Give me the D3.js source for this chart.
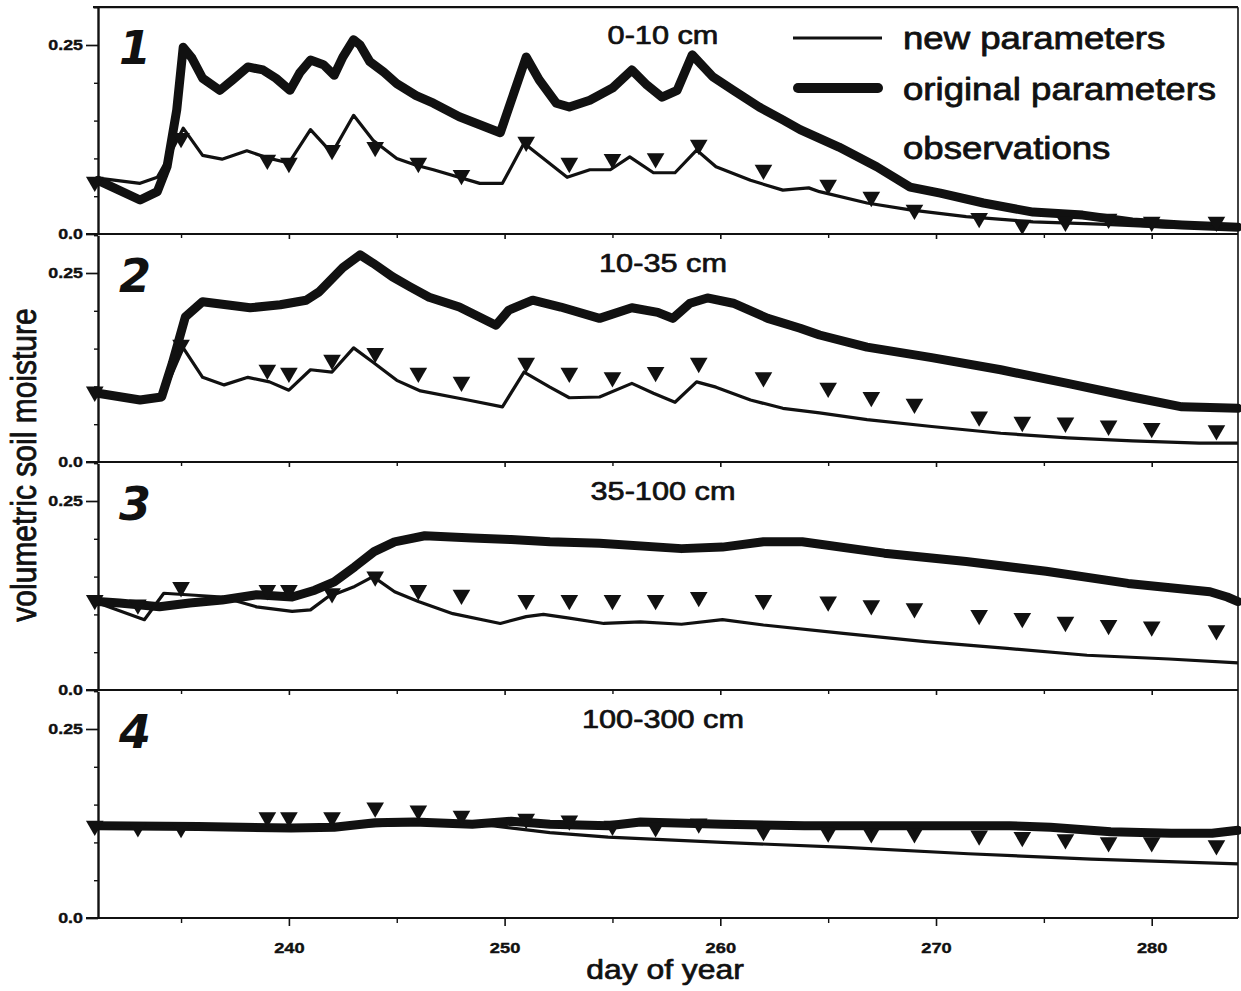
<!DOCTYPE html>
<html><head><meta charset="utf-8">
<script src="https://cdn.jsdelivr.net/npm/d3@7"></script>
<style>
body{margin:0;background:#fff;}
svg{display:block;font-family:"Liberation Sans",Arial,Helvetica,sans-serif;}
</style></head><body>
<svg id="chart" width="1241" height="991"></svg>
<script>
// ---------- data ----------
const panelTitles = ["0-10 cm", "10-35 cm", "35-100 cm", "100-300 cm"];
const panelNumbers = ["1", "2", "3", "4"];
const xTickValues = [240, 250, 260, 270, 280];
const xMinorTicks = [235, 245, 255, 265, 275];
const yMajorTicks = [0, 0.25];
const yMinorTicks = [0.05, 0.1, 0.15, 0.2, 0.3];
const legendLabels = ["new parameters", "original parameters", "observations"];

const obsDays = [231,233,235,239,240,242,244,246,248,251,253,255,257,259,262,265,267,269,272,274,276,278,280,283];

// panel 1 : 0-10 cm
const p1OrigDays = [231.15,233.1,233.9,234.35,234.8,235.1,235.5,236,236.8,237.4,238.1,238.8,239.4,240.05,240.5,241,241.6,242.1,242.5,243,243.3,243.75,244.4,245,245.9,246.7,247.9,249.8,251,251.6,252.4,253,253.95,255,255.9,256.6,257.3,258,258.7,259.65,260.6,261.8,262.9,263.7,265.5,267.25,268.8,270.2,272.2,274.5,276.8,279.1,281.4,284];
const p1Orig = [0.071,0.045,0.056,0.089,0.164,0.247,0.233,0.206,0.19,0.204,0.221,0.217,0.206,0.19,0.213,0.23,0.224,0.21,0.234,0.257,0.25,0.228,0.214,0.199,0.183,0.173,0.155,0.134,0.234,0.204,0.173,0.168,0.177,0.193,0.217,0.197,0.181,0.19,0.237,0.208,0.19,0.168,0.151,0.138,0.115,0.089,0.062,0.054,0.041,0.029,0.025,0.016,0.012,0.009];
const p1NewDays = [231.15,233.1,233.9,234.35,235.1,236,236.9,238.05,239.1,240,241,242,243,243.9,245,245.9,246.7,248.85,249.9,250.9,252.9,253.95,254.9,255.8,256.9,257.9,258.9,259.8,261.4,262.9,264.1,264.6,266.8,268.8,271.4,274.5,277.6,280.7,284];
const p1New = [0.074,0.067,0.075,0.098,0.14,0.104,0.099,0.11,0.1,0.094,0.138,0.107,0.157,0.124,0.1,0.091,0.085,0.067,0.067,0.12,0.075,0.085,0.085,0.102,0.081,0.081,0.111,0.089,0.071,0.058,0.061,0.056,0.041,0.032,0.023,0.016,0.013,0.009,0.009];
const p1Obs = [0.069,null,0.127,0.098,0.094,0.111,0.115,0.094,0.078,0.122,0.094,0.099,0.1,0.118,0.085,0.065,0.049,0.032,0.021,0.012,0.016,0.02,0.016,0.016];

// panel 2 : 10-35 cm
const p2OrigDays = [231.15,233.1,234.1,234.6,235.2,236,237.1,238.2,239.6,240.8,241.4,242.5,243.3,243.9,244.8,245.6,246.5,247.9,249.6,250.2,251.3,252.6,254.4,255.9,257.1,257.8,258.6,259.4,260.6,262.2,263.7,264.6,266.8,269.8,273,276.1,279.1,281.4,284];
const p2Orig = [0.091,0.082,0.086,0.131,0.192,0.212,0.208,0.204,0.208,0.214,0.225,0.257,0.274,0.263,0.245,0.232,0.218,0.205,0.181,0.201,0.214,0.205,0.19,0.204,0.198,0.19,0.21,0.217,0.21,0.19,0.177,0.168,0.152,0.138,0.122,0.104,0.086,0.073,0.071];
const p2NewDays = [231.15,233.1,234.1,234.6,235.1,236,237,238.1,239.1,240,241,242,243,243.9,245,246.1,248.3,249.9,250.9,252.1,253,254.4,255.9,256.9,257.9,258.9,259.8,261.4,262.9,264.6,266.8,269.8,273,276.1,279.1,282.2,284];
const p2New = [0.089,0.079,0.085,0.118,0.151,0.112,0.102,0.112,0.106,0.095,0.122,0.119,0.151,0.132,0.108,0.094,0.082,0.073,0.119,0.099,0.085,0.086,0.104,0.091,0.079,0.106,0.099,0.082,0.071,0.065,0.056,0.047,0.038,0.032,0.028,0.025,0.025];
const p2Obs = [0.093,null,0.155,0.122,0.118,0.135,0.144,0.118,0.106,0.131,0.118,0.112,0.119,0.131,0.112,0.098,0.086,0.077,0.06,0.053,0.052,0.048,0.045,0.042];

// panel 3 : 35-100 cm
const p3OrigDays = [231.15,232.15,234,235.4,236.9,238.5,240.15,241.2,242.1,243.05,243.95,244.9,246.3,248.5,250.3,252.1,254.4,258.2,260.1,262,263.8,267.6,271.4,275.1,278.9,282.7,283.5,284];
const p3Orig = [0.117,0.115,0.11,0.115,0.119,0.126,0.123,0.132,0.143,0.163,0.183,0.196,0.204,0.201,0.199,0.196,0.194,0.187,0.189,0.196,0.196,0.181,0.17,0.157,0.141,0.13,0.123,0.117];
const p3NewDays = [231.15,233.3,234.2,236.9,238.5,240.15,241,241.8,243.05,243.9,244.9,246,247.6,249.8,251,251.8,253,254.6,256.3,258.2,260.1,262,265.7,269.5,273.3,277,280.8,284];
const p3New = [0.115,0.093,0.128,0.123,0.11,0.104,0.106,0.123,0.137,0.15,0.13,0.117,0.101,0.088,0.097,0.1,0.095,0.088,0.09,0.087,0.093,0.086,0.075,0.064,0.055,0.046,0.041,0.036];
const p3Obs = [0.119,0.113,0.136,0.132,0.132,0.128,0.15,0.132,0.126,0.119,0.119,0.119,0.119,0.123,0.119,0.117,0.112,0.108,0.099,0.095,0.09,0.086,0.084,0.079];

// panel 4 : 100-300 cm
const p4OrigDays = [231.15,235.8,240.1,242.1,244,245.8,248.5,250.3,252.1,254.8,256.3,260.1,263.9,269.6,273.4,275.3,278.1,280.9,282.8,284];
const p4Orig = [0.122,0.121,0.119,0.12,0.126,0.127,0.124,0.128,0.124,0.122,0.127,0.124,0.122,0.122,0.122,0.12,0.114,0.112,0.112,0.116];
const p4NewDays = [231.15,236,240,244,246,248.5,249.4,252.1,254.8,260.1,265.8,271.5,277.2,284];
const p4New = [0.121,0.12,0.119,0.122,0.124,0.123,0.122,0.113,0.107,0.1,0.0935,0.085,0.078,0.0717];
const p4Obs = [0.122,0.12,0.119,0.133,0.133,0.133,0.146,0.142,0.135,0.131,0.129,0.122,0.12,0.125,0.115,0.113,0.112,0.112,0.109,0.107,0.104,0.1,0.1,0.096];

const origDaysList = [p1OrigDays, p2OrigDays, p3OrigDays, p4OrigDays];
const origList = [p1Orig, p2Orig, p3Orig, p4Orig];
const newDaysList = [p1NewDays, p2NewDays, p3NewDays, p4NewDays];
const newList = [p1New, p2New, p3New, p4New];
const obsList = [p1Obs, p2Obs, p3Obs, p4Obs];

// ---------- layout ----------
const INK = "#111";
const STRETCH = 1.18;
const left = 98, right = 1238;
const panelBottoms = [234, 462, 690, 918];
const panelH = 226.8;

const svg = d3.select("#chart");
svg.append("rect").attr("width", 1241).attr("height", 991).attr("fill", "#fff");

function stretch(sel, k) {
  sel.each(function () {
    const w = this.getComputedTextLength();
    d3.select(this).attr("textLength", w * k).attr("lengthAdjust", "spacingAndGlyphs");
  });
}
function heavy(sel, w) {
  sel.attr("stroke", INK).attr("stroke-width", w).attr("stroke-linejoin", "round");
}

const x = d3.scaleLinear().domain([231.15, 284]).range([left, right]);

const lineGen = (y) => d3.line().x(d => x(d[0])).y(d => y(d[1]));

panelTitles.forEach((title, i) => {
  const bottom = panelBottoms[i];
  const y = d3.scaleLinear().domain([0, 0.3]).range([bottom, bottom - panelH]);
  const g = svg.append("g");

  // x axis (bottom of panel)
  const isLast = i === panelTitles.length - 1;
  const xg = g.append("g").attr("transform", `translate(0,${bottom})`);
  xg.call(d3.axisBottom(x).tickValues(xTickValues).tickSize(isLast ? 8 : 5).tickSizeOuter(0)
    .tickPadding(16).tickFormat(isLast ? d3.format("d") : () => ""));
  xg.select(".domain").attr("stroke", INK).attr("stroke-width", 2.2)
    .attr("d", `M${left - 12},0H${right}`);
  xg.selectAll(".tick line").attr("stroke", INK).attr("stroke-width", 1.6);
  xg.selectAll("text").attr("fill", INK).attr("font-size", 15.5).attr("font-weight", "bold")
    .attr("font-family", "Liberation Sans, Arial, sans-serif");
  if (isLast) { stretch(xg.selectAll("text"), STRETCH); heavy(xg.selectAll("text"), 0.4); }
  const xm = g.append("g").attr("transform", `translate(0,${bottom})`);
  xm.call(d3.axisBottom(x).tickValues(xMinorTicks).tickSize(isLast ? 5 : 4).tickSizeOuter(0).tickFormat(() => ""));
  xm.select(".domain").remove();
  xm.selectAll(".tick line").attr("stroke", INK).attr("stroke-width", 1.4);

  // y axis
  const yg = g.append("g").attr("transform", `translate(${left},0)`);
  yg.call(d3.axisLeft(y).tickValues(yMajorTicks).tickSize(12).tickSizeOuter(0).tickPadding(3)
    .tickFormat(d => d === 0 ? "0.0" : d3.format(".2f")(d)));
  yg.select(".domain").attr("stroke", INK).attr("stroke-width", 2.4);
  yg.selectAll(".tick line").attr("stroke", INK).attr("stroke-width", 1.7);
  yg.selectAll("text").attr("fill", INK).attr("font-size", 15.5).attr("font-weight", "bold")
    .attr("font-family", "Liberation Sans, Arial, sans-serif");
  stretch(yg.selectAll("text"), 1.15);
  heavy(yg.selectAll("text"), 0.4);
  const ym = g.append("g").attr("transform", `translate(${left},0)`);
  ym.call(d3.axisLeft(y).tickValues(yMinorTicks).tickSize(4).tickSizeOuter(0).tickFormat(() => ""));
  ym.select(".domain").remove();
  ym.selectAll(".tick line").attr("stroke", INK).attr("stroke-width", 1.4);

  // original parameters (thick)
  const origData = d3.zip(origDaysList[i], origList[i]);
  g.append("path").datum(origData)
    .attr("d", lineGen(y)).attr("fill", "none").attr("stroke", INK)
    .attr("stroke-width", 9).attr("stroke-linejoin", "round").attr("stroke-linecap", "round");

  // new parameters (thin)
  const newData = d3.zip(newDaysList[i], newList[i]);
  g.append("path").datum(newData)
    .attr("d", lineGen(y)).attr("fill", "none").attr("stroke", INK)
    .attr("stroke-width", 3.2).attr("stroke-linejoin", "round");

  // observations
  const obsData = d3.zip(obsDays, obsList[i]).filter(d => d[1] !== null);
  g.selectAll("path.obs").data(obsData).join("path").attr("class", "obs")
    .attr("d", d3.symbol(d3.symbolTriangle, 135))
    .attr("transform", d => `translate(${x(d[0])},${y(d[1])}) rotate(180)`)
    .attr("fill", INK);

  // panel title
  const t = g.append("text").attr("x", 663).attr("y", bottom - 190)
    .attr("text-anchor", "middle").attr("font-size", 26).attr("fill", INK).text(title);
  stretch(t, STRETCH);
  heavy(t, 0.7);

  // handwritten panel number
  g.append("text").attr("x", 135).attr("y", bottom - 170)
    .attr("text-anchor", "middle").attr("font-size", 46).attr("font-weight", "bold")
    .attr("font-style", "italic").attr("font-family", "DejaVu Sans, sans-serif")
    .attr("fill", INK).text(panelNumbers[i]);
});

// frame: top & right
svg.append("line").attr("x1", left - 5).attr("x2", right).attr("y1", panelBottoms[0] - panelH).attr("y2", panelBottoms[0] - panelH)
  .attr("stroke", INK).attr("stroke-width", 2.2);
svg.append("line").attr("x1", right).attr("x2", right).attr("y1", panelBottoms[0] - panelH).attr("y2", panelBottoms[3])
  .attr("stroke", INK).attr("stroke-width", 1.6);

// axis titles
const xt = svg.append("text").attr("x", 665).attr("y", 979).attr("text-anchor", "middle")
  .attr("font-size", 27).attr("fill", INK).text("day of year");
stretch(xt, STRETCH);
heavy(xt, 0.7);
const yt = svg.append("g").attr("transform", "translate(36,465) scale(1.18,1) rotate(-90)")
  .append("text").attr("text-anchor", "middle").attr("font-size", 30).attr("fill", INK)
  .text("volumetric soil moisture");
heavy(yt, 0.7);

// legend
const lg = svg.append("g");
lg.append("line").attr("x1", 793).attr("x2", 882).attr("y1", 38).attr("y2", 38)
  .attr("stroke", INK).attr("stroke-width", 3.2);
lg.append("line").attr("x1", 798).attr("x2", 878).attr("y1", 88).attr("y2", 88)
  .attr("stroke", INK).attr("stroke-width", 10).attr("stroke-linecap", "round");
const legendBaselines = [49, 100, 159];
legendLabels.forEach((lab, i) => {
  const t = lg.append("text").attr("x", 903).attr("y", legendBaselines[i])
    .attr("font-size", 31).attr("fill", INK).text(lab);
  stretch(t, STRETCH);
  heavy(t, 0.8);
});
</script>
</body></html>
